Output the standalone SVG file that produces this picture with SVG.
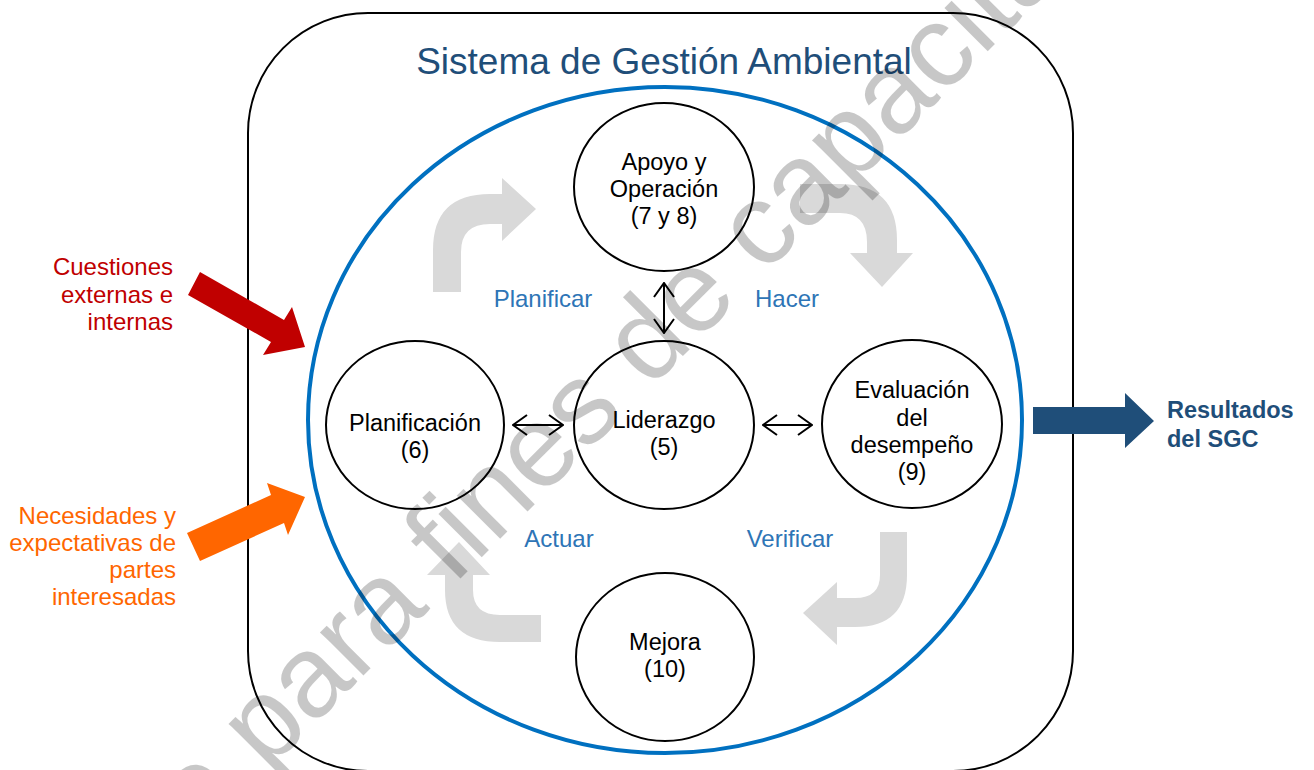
<svg xmlns="http://www.w3.org/2000/svg" width="1314" height="770" viewBox="0 0 1314 770">
<defs>
<style>
text{font-family:"Liberation Sans",Arial,sans-serif}
.node{fill:#fff;stroke:#000;stroke-width:2}
.nt{font-size:23.5px;fill:#000;text-anchor:middle}
.lbl{font-size:24px;fill:#2E75B6;text-anchor:middle}
.cyc{fill:#D9D9D9}
.dbl{stroke:#000;stroke-width:2;fill:none;marker-start:url(#chev);marker-end:url(#chev)}
.inL{font-size:24px;text-anchor:end}
.res{font-size:23.5px;font-weight:bold;fill:#1F4E79}
</style>
<marker id="chev" viewBox="0 0 16 22" refX="15" refY="11" markerWidth="16" markerHeight="22" markerUnits="userSpaceOnUse" orient="auto-start-reverse">
<path d="M1,1 L15,11 L1,21" fill="none" stroke="#000" stroke-width="2"/>
</marker>
</defs>
<rect width="1314" height="770" fill="#fff"/>

<g id="sistema">
<rect x="248" y="13" width="825" height="758" rx="120" ry="120" fill="none" stroke="#000" stroke-width="2"/>
<text x="664" y="74" style="font-size:37px;fill:#1F4E79;text-anchor:middle">Sistema de Gestión Ambiental</text>
</g>

<g id="ciclo">
<ellipse cx="665" cy="420" rx="357" ry="333" fill="none" stroke="#0070C0" stroke-width="4"/>
</g>

<g id="flechas-ciclo">
<path class="cyc" d="M433,292 L433,250 Q433,194 490,194 L502,194 L502,178 L536,209 L502,241 L502,224 L490,224 Q461,224 461,252 L461,292 Z"/>
<path class="cyc" d="M800,184 L840,184 Q897,184 897,240 L897,253 L913,253 L882,287 L850,253 L867,253 L867,242 Q867,213 840,213 L800,213 Z"/>
<path class="cyc" d="M880,532 L907,532 L907,575 Q907,627 855,627 L837,627 L837,645 L803,613 L837,582 L837,598 L855,598 Q880,598 880,575 Z"/>
<path class="cyc" d="M541,615 L500,615 Q473,615 473,590 L473,575 L490,575 L459,542 L427,575 L445,575 L445,590 Q445,642 500,642 L541,642 Z"/>
</g>

<g id="etiquetas">
<text class="lbl" x="543" y="307">Planificar</text>
<text class="lbl" x="787" y="307">Hacer</text>
<text class="lbl" x="559" y="547">Actuar</text>
<text class="lbl" x="790" y="547">Verificar</text>
</g>

<g id="apoyo">
<ellipse class="node" cx="664" cy="187" rx="90" ry="84"/>
<text class="nt" x="664" y="170">Apoyo y</text>
<text class="nt" x="664" y="197">Operación</text>
<text class="nt" x="664" y="224">(7 y 8)</text>
</g>

<g id="planificacion">
<ellipse class="node" cx="415" cy="425" rx="89" ry="84"/>
<text class="nt" x="415" y="431">Planificación</text>
<text class="nt" x="415" y="458">(6)</text>
</g>

<g id="liderazgo">
<ellipse class="node" cx="664" cy="425" rx="90" ry="84"/>
<text class="nt" x="664" y="428">Liderazgo</text>
<text class="nt" x="664" y="455">(5)</text>
</g>

<g id="evaluacion">
<ellipse class="node" cx="912" cy="424" rx="90" ry="84"/>
<text class="nt" x="912" y="398">Evaluación</text>
<text class="nt" x="912" y="426">del</text>
<text class="nt" x="912" y="453">desempeño</text>
<text class="nt" x="912" y="480">(9)</text>
</g>

<g id="mejora">
<ellipse class="node" cx="665" cy="657" rx="89" ry="84"/>
<text class="nt" x="665" y="650">Mejora</text>
<text class="nt" x="665" y="677">(10)</text>
</g>

<g id="cuestiones">
<text class="inL" x="173" y="275" fill="#C00000">Cuestiones</text>
<text class="inL" x="173" y="303" fill="#C00000">externas e</text>
<text class="inL" x="173" y="330" fill="#C00000">internas</text>
</g>

<g id="necesidades">
<text class="inL" x="176" y="524" fill="#FF6600">Necesidades y</text>
<text class="inL" x="176" y="551" fill="#FF6600">expectativas de</text>
<text class="inL" x="176" y="578" fill="#FF6600">partes</text>
<text class="inL" x="176" y="605" fill="#FF6600">interesadas</text>
</g>

<g id="resultados">
<text class="res" x="1167" y="418">Resultados</text>
<text class="res" x="1167" y="447">del SGC</text>
</g>

<g id="conectores">
<line class="dbl" x1="664" y1="283" x2="664" y2="333"/>
<line class="dbl" x1="513" y1="425" x2="563" y2="425"/>
<line class="dbl" x1="763" y1="425" x2="812" y2="425"/>
<polygon fill="#C00000" points="200,272 284,320 292,307 305,347 263,355 271,342 188,295"/>
<polygon fill="#FF6600" points="187,533 271,495 267,483 305,497 288,535 284,523 200,561"/>
<polygon fill="#1F4E79" points="1033,407 1125,407 1125,393 1154,421 1125,448 1125,434 1033,434"/>
</g>

<g id="marca-agua">
<text transform="translate(198,841) rotate(-45)" style="font-size:116px;fill:#000;fill-opacity:0.22">o para fines de capacitación</text>
</g>
</svg>
